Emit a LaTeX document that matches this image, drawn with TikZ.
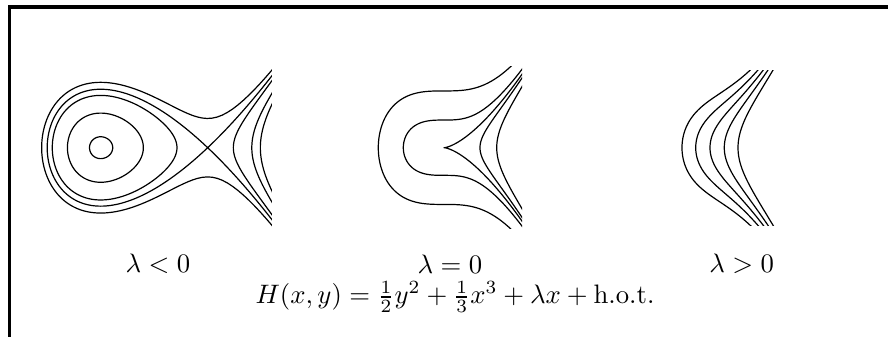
\documentclass[tikz,border=0pt]{standalone}
\usepackage{amsmath}
\begin{document}
\begin{tikzpicture}[x=0.3745pt, y=-0.3745pt,
  declare function={qq(\x,\r,\l)=\x*\x+\x*\r+\r*\r+3*\l;},
  orbit/.style={line width=0.45pt, line join=round},
  frameline/.style={line width=1.2pt},
  caption/.style={inner sep=0pt}]
  \useasboundingbox (0,0) rectangle (888,337);
  \draw[frameline] (9.5,345) -- (9.5,7) -- (895,7);

  % lambda < 0 : centre and saddle
  \begin{scope}[shift={(154.2,147.7)}, xscale=-53.5, yscale=-35.8]
    \clip (-2.2,-2.2) rectangle (2.6,2.2);
    % outside the loop
    \draw[orbit] plot[domain=-2.1:2.1, samples=161, variable=\s]
      ({2.1038-\s*\s}, {\s*sqrt(max(0,2/3*qq(2.1038-\s*\s,2.1038,-1)))});
    % separatrix
    \draw[orbit] plot[domain=-2.1:2.1, samples=161, variable=\s]
      ({2-\s*\s}, {0.8165*\s*(3-\s*\s)});
    % periodic orbits and the branches beyond the saddle
    \foreach \ctr/\hw/\xs in {0.9921/0.2167/-1.9843, 0.9123/0.7095/-1.8245, 0.7397/1.1655/-1.4794}{
      \draw[orbit] plot[domain=0:360, samples=121, variable=\t]
        ({\ctr+\hw*cos(\t)}, {\hw*sin(\t)*sqrt(max(0,2/3*(\ctr+\hw*cos(\t)-\xs)))}) -- cycle;
      \draw[orbit] plot[domain=-1:1, samples=81, variable=\s]
        ({\xs-\s*\s}, {\s*sqrt(max(0,2/3*qq(\xs-\s*\s,\xs,-1)))});
    }
  \end{scope}

  % lambda = 0 : cusp
  \begin{scope}[shift={(444,147.7)}, xscale=-35.5, yscale=-27.6]
    \clip (-2.2,-2.93) rectangle (2.2,2.93);
    \foreach \r in {1.851,1.146,0,-1.014,-1.485}
      \draw[orbit] plot[domain=-2.1:2.1, samples=161, variable=\s]
        ({\r-\s*\s}, {\s*sqrt(max(0,2/3*qq(\r-\s*\s,\r,0)))});
  \end{scope}

  % lambda > 0 : no equilibria
  \begin{scope}[shift={(710,147.7)}, xscale=-37.7, yscale=-35.8]
    \clip (-2.5,-2.17) rectangle (1.5,2.17);
    \foreach \r in {0.743,0.379,0,-0.379,-0.743}
      \draw[orbit] plot[domain=-1.7:1.7, samples=121, variable=\s]
        ({\r-\s*\s}, {\s*sqrt(max(0,2/3*qq(\r-\s*\s,\r,1)))});
  \end{scope}

  \node[caption] (lneg)  at (158,264)   {$\lambda<0$};
  \node[caption] (lzero) at (450,264)   {$\lambda=0$};
  \node[caption] (lpos)  at (741.7,264) {$\lambda>0$};
  \node[caption] (ham)   at (455,297)
    {$H(x,y)=\frac{1}{2}y^2+\frac{1}{3}x^3+\lambda x+\mathrm{h.o.t.}$};
\end{tikzpicture}
\end{document}
